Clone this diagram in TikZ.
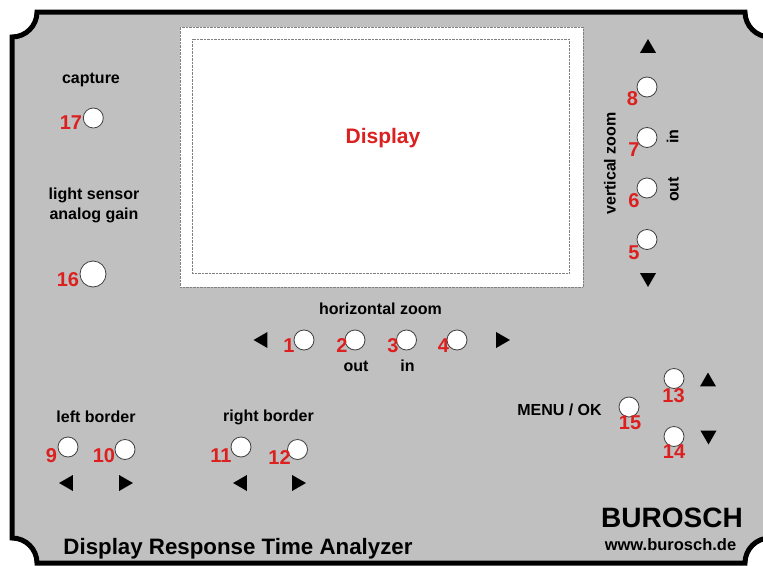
\documentclass[tikz,border=0pt]{standalone}
\usepackage{fontspec}
\setmainfont{Liberation Sans}
\usetikzlibrary{shapes.geometric}

\definecolor{panelgray}{RGB}{192,192,192}
\definecolor{labelred}{RGB}{220,32,32}

\begin{document}
\begin{tikzpicture}[x=1pt, y=-1pt]
    \tikzstyle{button}=[
        draw = black!75,
        fill = white,
        line width = 0.8pt,
        minimum size = 20pt,
        inner sep = 0pt,
        circle
    ]
    \tikzstyle{big button}=[
        button,
        minimum size = 26pt
    ]
    \tikzstyle{number}=[
        text = labelred,
        font = \bfseries\fontsize{20}{20}\selectfont,
        inner sep = 0pt
    ]
    \tikzstyle{caption}=[
        font = \bfseries\fontsize{16}{20}\selectfont,
        inner sep = 0pt,
        align = center
    ]
    \tikzstyle{pointer}=[
        regular polygon,
        regular polygon sides = 3,
        fill = black,
        minimum size = 18.5pt,
        inner sep = 0pt
    ]
    \tikzstyle{screen}=[
        draw = gray,
        densely dotted,
        inner sep = 0pt
    ]

    \useasboundingbox (0,0) rectangle (763,565);
    \clip (0,0) rectangle (763,565);

    % front panel
    \draw[line width=5pt, fill=panelgray] (12,37) arc (90:0:25) -- (745,12) arc (180:90:25)
        -- (770,538) arc (270:180:25) -- (37,563) arc (360:270:25) -- cycle;

    % display
	\node[screen, fill=white, minimum width=403pt, minimum height=260pt] (frame) at (381.5,157) {};
	\node[screen, minimum width=377pt, minimum height=234pt]             (lcd)   at (380.5,156) {};
	\node[number, font=\bfseries\fontsize{21}{21}\selectfont]             (disp)  at (383,138)   {Display};

    % capture and gain
	\node[caption]    (capture) at (91,80)    {capture};
	\node[button]     (b17)     at (93.3,118) {};
	\node[number]     (n17)     at (71,122.5) {17};
	\node[caption]    (gain)    at (94,205)   {light sensor\\analog gain};
	\node[big button] (b16)     at (93,274)   {};
	\node[number]     (n16)     at (68,280)   {16};

    % vertical zoom
	\node[pointer]                           (vup)   at (648,48.3)  {};
	\node[button]                            (b8)    at (647,87)    {};
	\node[number]                            (n8)    at (632.5,98.5) {8};
	\node[button]                            (b7)    at (647,137.5) {};
	\node[number]                            (n7)    at (634,149.5) {7};
	\node[button]                            (b6)    at (647,188)   {};
	\node[number]                            (n6)    at (634,200.5) {6};
	\node[button]                            (b5)    at (647,239.5) {};
	\node[number]                            (n5)    at (634,252.5) {5};
	\node[pointer, shape border rotate=180]  (vdown) at (648,277.7) {};
	\node[caption, rotate=90]                (vzoom) at (610,163.5) {vertical zoom};
	\node[caption, rotate=90]                (vin)   at (672.5,136.5) {in};
	\node[caption, rotate=90]                (vout)  at (673.5,189.5) {out};

    % horizontal zoom
	\node[caption]                           (hzoom)  at (380.5,309) {horizontal zoom};
	\node[pointer, shape border rotate=90]   (hleft)  at (262.8,340) {};
	\node[button]                            (b1)     at (304,340)   {};
	\node[number]                            (n1)     at (289,346)   {1};
	\node[button]                            (b2)     at (355,340)   {};
	\node[number]                            (n2)     at (342,346)   {2};
	\node[button]                            (b3)     at (406.5,340) {};
	\node[number]                            (n3)     at (393,346)   {3};
	\node[button]                            (b4)     at (457,340)   {};
	\node[number]                            (n4)     at (443.5,346) {4};
	\node[pointer, shape border rotate=270]  (hright) at (500.7,340) {};
	\node[caption]                           (hout)   at (356,366)   {out};
	\node[caption]                           (hin)    at (407.5,366) {in};

    % left border
	\node[caption]                           (lborder) at (96,417)    {left border};
	\node[button]                            (b9)      at (68,447)    {};
	\node[number]                            (n9)      at (51.5,455.5) {9};
	\node[button]                            (b10)     at (125,449.5) {};
	\node[number]                            (n10)     at (104,456)   {10};
	\node[pointer, shape border rotate=90]   (lleft)   at (68.3,483)  {};
	\node[pointer, shape border rotate=270]  (lright)  at (123.7,483) {};

    % right border
	\node[caption]                           (rborder) at (268.5,417) {right border};
	\node[button]                            (b11)     at (241,447)   {};
	\node[number]                            (n11)     at (221,455.5) {11};
	\node[button]                            (b12)     at (297.5,449.5) {};
	\node[number]                            (n12)     at (279.5,457.5) {12};
	\node[pointer, shape border rotate=90]   (rleft)   at (242.3,483) {};
	\node[pointer, shape border rotate=270]  (rright)  at (296.7,483) {};

    % menu
	\node[caption]                           (menu)  at (559.5,409.5) {MENU / OK};
	\node[button]                            (b15)   at (629,407)   {};
	\node[number]                            (n15)   at (630,423)   {15};
	\node[button]                            (b13)   at (674,378.5) {};
	\node[number]                            (n13)   at (673.5,395.5) {13};
	\node[pointer]                           (mup)   at (708,381.8) {};
	\node[button]                            (b14)   at (674,436.5) {};
	\node[number]                            (n14)   at (674,451.5) {14};
	\node[pointer, shape border rotate=180]  (mdown) at (708.5,435.2) {};

    % maker and title
	\node[caption, font=\bfseries\fontsize{28}{28}\selectfont]     (maker) at (672,518)   {BUROSCH};
	\node[caption, font=\bfseries\fontsize{16.5}{18}\selectfont]   (web)   at (670.5,545) {www.burosch.de};
	\node[caption, font=\bfseries\fontsize{22.3}{24}\selectfont]   (title) at (238,549)   {Display Response Time Analyzer};

\end{tikzpicture}
\end{document}
